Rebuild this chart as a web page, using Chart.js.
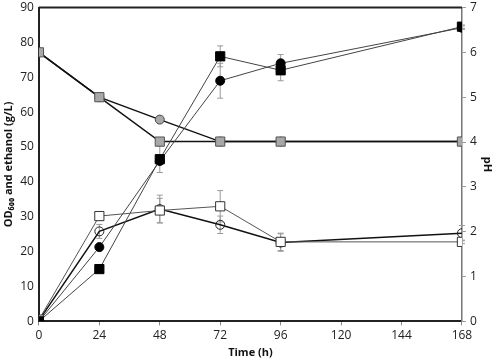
<!DOCTYPE html>
<html>
<head>
<meta charset="utf-8">
<script src="https://cdn.jsdelivr.net/npm/chart.js@4/dist/chart.umd.min.js"></script>
<style>
  html, body { margin: 0; padding: 0; background: #fff; }
  #wrap { width: 498px; height: 363px; }
</style>
</head>
<body>
<div id="wrap"><canvas id="chart" width="498" height="363"></canvas></div>
<script>
// time points (h)
const hours = [0, 24, 48, 72, 96, 168];

// left axis: OD600 and ethanol (g/L)
const ethanolSquare = [0, 15, 46.5, 76, 72, 84.5];
const ethanolCircle = [0, 21.3, 46, 69, 74, 84.2];
const odSquare = [0.5, 30.2, 31.8, 33, 22.8, 22.8];
const odCircle = [0.3, 25.8, 32.2, 27.7, 22.6, 25.3];

// error bars (same units)
const ethanolSquareErr = [0, 0, 3.8, 3, 3, 0.5];
const ethanolCircleErr = [0, 0, 0, 5, 2.5, 0.5];
const odSquareErr = [0, 1, 3.5, 4.5, 2.5, 0.5];
const odCircleErr = [0, 2, 4, 2.5, 2.5, 2.2];

// right axis: pH
const phSquare = [6, 5, 4.01, 4.01, 4.01, 4.01];
const phCircle = [6, 5, 4.5, 4.01, 4.01, 4.01];

const xTicks = [0, 24, 48, 72, 96, 120, 144, 168];

const pts = arr => arr.map((v, i) => ({ x: hours[i], y: v }));

// error bars drawn behind markers
const errorBars = {
  id: "errorBars",
  beforeDatasetsDraw(chart) {
    const ctx = chart.ctx;
    ctx.save();
    ctx.strokeStyle = "#9a9a9a";
    ctx.lineWidth = 1;
    chart.data.datasets.forEach(ds => {
      if (!ds.errors) return;
      const ys = chart.scales[ds.yAxisID || "y"];
      const xs = chart.scales.x;
      ds.data.forEach((p, i) => {
        const e = ds.errors[i];
        if (!e) return;
        const px = xs.getPixelForValue(p.x);
        const top = ys.getPixelForValue(p.y + e);
        const bot = ys.getPixelForValue(p.y - e);
        ctx.beginPath();
        ctx.moveTo(px, top); ctx.lineTo(px, bot);
        ctx.moveTo(px - 3, top); ctx.lineTo(px + 3, top);
        ctx.moveTo(px - 3, bot); ctx.lineTo(px + 3, bot);
        ctx.stroke();
      });
    });
    ctx.restore();
  },
  afterDraw(chart) {
    // top frame line
    const a = chart.chartArea;
    const ctx = chart.ctx;
    ctx.save();
    ctx.strokeStyle = "#222";
    ctx.lineWidth = 2;
    ctx.beginPath();
    ctx.moveTo(a.left, a.top);
    ctx.lineTo(a.right, a.top);
    ctx.stroke();
    ctx.restore();
  }
};

const fontFam = "'Open Sans', 'DejaVu Sans', sans-serif";
const noVPad = scale => { scale.paddingTop = 0; scale.paddingBottom = 0; };

new Chart(document.getElementById("chart"), {
  type: "line",
  data: {
    datasets: [
      {
        label: "Ethanol (square)", data: pts(ethanolSquare), errors: ethanolSquareErr, yAxisID: "y",
        borderColor: "#444", borderWidth: 1,
        pointStyle: "rect", pointRadius: 6.5,
        pointBackgroundColor: "#000", pointBorderColor: "#000", pointBorderWidth: 1
      },
      {
        label: "Ethanol (circle)", data: pts(ethanolCircle), errors: ethanolCircleErr, yAxisID: "y",
        borderColor: "#444", borderWidth: 1,
        pointStyle: "circle", pointRadius: 4.5,
        pointBackgroundColor: "#000", pointBorderColor: "#000", pointBorderWidth: 1
      },
      {
        label: "OD (square)", data: pts(odSquare), errors: odSquareErr, yAxisID: "y",
        borderColor: "#555", borderWidth: 1,
        pointStyle: "rect", pointRadius: 6.5,
        pointBackgroundColor: "#fff", pointBorderColor: "#333", pointBorderWidth: 1
      },
      {
        label: "OD (circle)", data: pts(odCircle), errors: odCircleErr, yAxisID: "y",
        borderColor: "#111", borderWidth: 1.5,
        pointStyle: "circle", pointRadius: 4.5,
        pointBackgroundColor: "rgba(255,255,255,0)", pointBorderColor: "#222", pointBorderWidth: 1
      },
      {
        label: "pH (square)", data: pts(phSquare), yAxisID: "y2",
        borderColor: "#111", borderWidth: 1.5,
        pointStyle: "rect", pointRadius: 6.5,
        pointBackgroundColor: "#a8a8a8", pointBorderColor: "#555", pointBorderWidth: 1
      },
      {
        label: "pH (circle)", data: pts(phCircle), yAxisID: "y2",
        borderColor: "#111", borderWidth: 1.5,
        pointStyle: "circle", pointRadius: 4.5,
        pointBackgroundColor: "#a8a8a8", pointBorderColor: "#444", pointBorderWidth: 1
      }
    ]
  },
  options: {
    responsive: false,
    animation: false,
    layout: { padding: { top: 3, right: 2, left: 2, bottom: 4 } },
    plugins: {
      legend: { display: false },
      tooltip: { enabled: false }
    },
    elements: { line: { tension: 0 } },
    scales: {
      x: {
        type: "linear", min: 0, max: 168,
        afterBuildTicks: axis => { axis.ticks = xTicks.map(v => ({ value: v })); },
        grid: { display: true, drawOnChartArea: false, drawTicks: true, tickLength: 4, color: "#888" },
        border: { color: "#222", width: 2 },
        ticks: { color: "#222", font: { family: fontFam, size: 12 }, padding: 3, maxRotation: 0 },
        title: { display: true, text: "Time (h)", color: "#111", font: { family: fontFam, size: 11, weight: "bold" }, padding: { top: 0, bottom: 0 } }
      },
      y: {
        type: "linear", position: "left", min: 0, max: 90,
        afterFit: noVPad,
        ticks: { stepSize: 10, color: "#222", font: { family: fontFam, size: 12 }, padding: 5 },
        grid: { display: true, drawOnChartArea: false, drawTicks: false },
        border: { color: "#222", width: 2 },
        title: { display: true, text: "OD₆₀₀ and ethanol (g/L)", color: "#111", font: { family: fontFam, size: 11, weight: "bold" }, padding: { top: 0, bottom: 0 } }
      },
      y2: {
        type: "linear", position: "right", min: 0, max: 7,
        afterFit: noVPad,
        ticks: { stepSize: 1, color: "#222", font: { family: fontFam, size: 12 }, padding: 4 },
        grid: { display: true, drawOnChartArea: false, drawTicks: true, tickLength: 4, color: "#999" },
        border: { color: "#777", width: 1.5 },
        title: { display: true, text: "pH", color: "#111", font: { family: fontFam, size: 11, weight: "bold" }, padding: { top: 2, bottom: 0 } }
      }
    }
  },
  plugins: [errorBars]
});
</script>
</body>
</html>
